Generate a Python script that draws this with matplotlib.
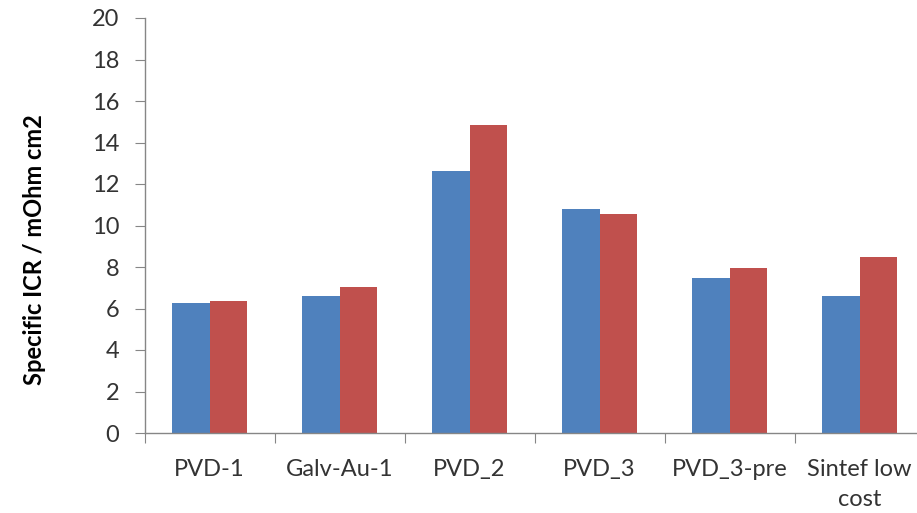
import numpy as np
import matplotlib
matplotlib.use("Agg")
import matplotlib.pyplot as plt

# Data
categories = ["PVD-1", "Galv-Au-1", "PVD_2", "PVD_3", "PVD_3-pre", "Sintef low\ncost"]
series_blue = [6.28, 6.60, 12.63, 10.78, 7.49, 6.62]
series_red = [6.35, 7.04, 14.84, 10.54, 7.94, 8.50]
y_ticks = [0, 2, 4, 6, 8, 10, 12, 14, 16, 18, 20]

plt.rcParams['font.family'] = ['Lato', 'DejaVu Sans']

fig = plt.figure(figsize=(9.17, 5.13), dpi=100)
ax = fig.add_axes([144.5 / 917, 80 / 513, 780 / 917, 415 / 513])

x = np.arange(len(categories))
w = 0.285
ax.bar(x - w / 2, series_blue, width=w, color='#4F81BD')
ax.bar(x + w / 2, series_red, width=w, color='#C0504D')

ax.set_xlim(-0.5, len(categories) - 0.5)
ax.set_ylim(0, 20)

axis_grey = '#868686'
text_col = '#333333'
for s in ['top', 'right']:
    ax.spines[s].set_visible(False)
for s in ['left', 'bottom']:
    ax.spines[s].set_color(axis_grey)
    ax.spines[s].set_linewidth(1.0)

ax.set_yticks(y_ticks)
ax.tick_params(axis='y', direction='out', length=7, color=axis_grey,
               labelsize=17, labelcolor=text_col, pad=11)

# boundary ticks (major) and centred labels (minor)
ax.set_xticks(np.arange(-0.5, len(categories), 1.0))
ax.set_xticklabels([])
ax.tick_params(axis='x', which='major', direction='out', length=7, color=axis_grey)
ax.set_xticks(x, minor=True)
ax.set_xticklabels(categories, minor=True, linespacing=1.5)
ax.tick_params(axis='x', which='minor', length=0, labelsize=17,
               labelcolor=text_col, pad=19)

ax.set_ylabel('Specific ICR / mOhm cm2', fontsize=17, fontweight='bold', color='black')
ax.yaxis.set_label_coords(-0.126, 0.443)

fig.savefig('out.png', dpi=100)
